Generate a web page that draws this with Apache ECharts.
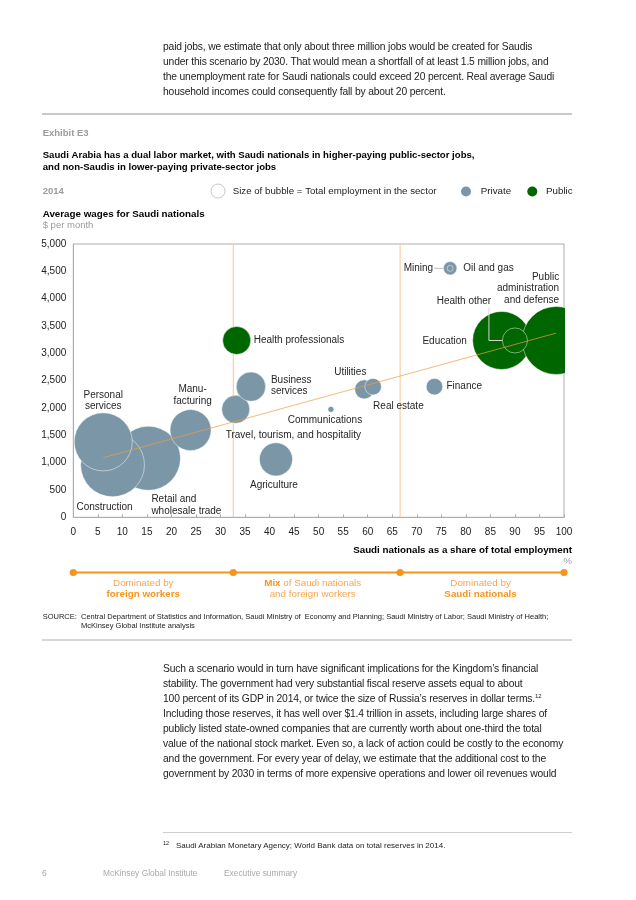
<!DOCTYPE html>
<html>
<head>
<meta charset="utf-8">
<script src="https://cdn.jsdelivr.net/npm/echarts@6/dist/echarts.min.js"></script>
<style>
  html, body { margin: 0; padding: 0; background: #fff; }
  #page { position: relative; width: 636px; height: 900px; overflow: hidden; font-family: "Liberation Sans", Arial, sans-serif; }
  #chart { position: absolute; left: 0; top: 0; width: 636px; height: 900px; }
  .prose { position: absolute; left: 163px; font-size: 10.3px; line-height: 15px; color: #222; white-space: nowrap; letter-spacing: -0.16px; }
  .rule { position: absolute; height: 0; border-top: 1.5px solid #cfcfcf; }
  .foot { position: absolute; font-size: 8.4px; color: #a8a8a8; white-space: nowrap; }
  sup { font-size: 6px; line-height: 0; vertical-align: 4px; }
</style>
</head>
<body>
<div id="page">
  <div id="chart"></div>
  <div class="prose" style="top:39px;">paid jobs, we estimate that only about three million jobs would be created for Saudis<br>under this scenario by 2030. That would mean a shortfall of at least 1.5 million jobs, and<br>the unemployment rate for Saudi nationals could exceed 20 percent. Real average Saudi<br>household incomes could consequently fall by about 20 percent.</div>
  <div class="prose" style="top:661px;">Such a scenario would in turn have significant implications for the Kingdom’s financial<br>stability. The government had very substantial fiscal reserve assets equal to about<br>100 percent of its GDP in 2014, or twice the size of Russia’s reserves in dollar terms.<sup>12</sup><br>Including those reserves, it has well over $1.4 trillion in assets, including large shares of<br>publicly listed state-owned companies that are currently worth about one-third the total<br>value of the national stock market. Even so, a lack of action could be costly to the economy<br>and the government. For every year of delay, we estimate that the additional cost to the<br>government by 2030 in terms of more expensive operations and lower oil revenues would</div>
  <div class="rule" style="left:163px; width:409px; top:832px;"></div>
  <div class="foot" style="left:163px; top:840px; color:#222; font-size:5.5px;">12</div>
  <div class="foot" style="left:176px; top:841px; color:#222; font-size:8px;">Saudi Arabian Monetary Agency; World Bank data on total reserves in 2014.</div>
  <div class="foot" style="left:42px; top:868px;">6</div>
  <div class="foot" style="left:103px; top:868px;">McKinsey Global Institute</div>
  <div class="foot" style="left:224px; top:868px;">Executive summary</div>
</div>
<script>
// ---------------- DATA ----------------
const sectors = ['Retail and\nwholesale trade', 'Construction', 'Personal\nservices', 'Manu-\nfacturing', 'Agriculture',
  'Travel, tourism, and hospitality', 'Business\nservices', 'Utilities', 'Real estate', 'Communications', 'Finance',
  'Oil and gas', 'Mining', 'Health professionals', 'Education', 'Public\nadministration\nand defense', 'Health other'];
const sectorType = ['Private', 'Private', 'Private', 'Private', 'Private', 'Private', 'Private', 'Private', 'Private',
  'Private', 'Private', 'Private', 'Private', 'Public', 'Public', 'Public', 'Public'];
// Saudi nationals as a share of total employment, %
const saudiShare = [15.3, 8.0, 6.1, 23.9, 41.3, 33.1, 36.2, 59.3, 61.1, 52.5, 73.6, 76.8, 76.8, 33.3, 87.3, 98.4, 90.0];
// Average wages for Saudi nationals, $ per month
const avgWage = [1080, 960, 1380, 1595, 1060, 1975, 2390, 2340, 2390, 1975, 2390, 4555, 4555, 3235, 3235, 3235, 3235];
// Total employment in the sector (thousands)
const employment = [2100, 2080, 1720, 860, 560, 400, 440, 185, 140, 18, 140, 92, 18, 400, 1720, 2360, 320];
// Trend line endpoints (share %, wage $)
const trendX = [6.1, 98.4];
const trendY = [1090, 3370];
// Boundaries between employment regimes (share %)
const regimeBounds = [0, 32.6, 66.6, 100];
const xTicks = { min: 0, max: 100, interval: 5 };
const yTicks = { min: 0, max: 5000, interval: 500 };

// ---------------- LAYOUT / STYLE ----------------
const PRIVATE_COLOR = '#7b97a7';
const PUBLIC_COLOR = '#006600';
const ORANGE = '#f7941d';
const R_K = 0.7; // px radius per sqrt(thousand employees)
// label offsets in px relative to bubble center: [dx, dy, align]
const labelLayout = {
  'Retail and\nwholesale trade': [3, 47, 'left'],
  'Construction': [-8, 42, 'center'],
  'Personal\nservices': [0, -41, 'center'],
  'Manu-\nfacturing': [2, -35, 'center'],
  'Agriculture': [-2, 26, 'center'],
  'Travel, tourism, and hospitality': [-10, 26, 'left'],
  'Business\nservices': [20, -1, 'left'],
  'Utilities': [-14, -17, 'center'],
  'Real estate': [0, 20, 'left'],
  'Communications': [-6, 11, 'center'],
  'Finance': [12, 0, 'left'],
  'Oil and gas': [13, 0, 'left'],
  'Mining': [-17, 0, 'right'],
  'Health professionals': [17, 0, 'left'],
  'Education': [-57, 1, 'center'],
  'Public\nadministration\nand defense': [3, -52, 'right'],
  'Health other': [-51, -39, 'center']
};

function bubbleData(type) {
  const out = [];
  sectors.forEach((s, i) => { if (sectorType[i] === type) out.push([saudiShare[i], avgWage[i], employment[i], i]); });
  return out;
}

function renderBubble(color) {
  return function (params, api) {
    const p = api.coord([api.value(0), api.value(1)]);
    const r = R_K * Math.sqrt(api.value(2));
    return {
      type: 'circle',
      shape: { cx: p[0], cy: p[1], r: r },
      style: { fill: color, stroke: 'rgba(255,255,255,0.6)', lineWidth: 0.8 }
    };
  };
}

function renderLabel(params, api) {
  const i = api.value(2);
  const name = sectors[i];
  const lay = labelLayout[name];
  const p = api.coord([api.value(0), api.value(1)]);
  const children = [{
    type: 'text',
    style: {
      x: p[0] + lay[0], y: p[1] + lay[1], text: name,
      align: lay[2], verticalAlign: 'middle',
      font: '10px "Liberation Sans", Arial, sans-serif', lineHeight: 11.5, fill: '#262626'
    }
  }];
  const r = R_K * Math.sqrt(employment[i]);
  if (name === 'Mining') {
    const ro = R_K * Math.sqrt(employment[sectors.indexOf('Oil and gas')]);
    children.push({ type: 'line', shape: { x1: p[0] - 16, y1: p[1], x2: p[0] - ro, y2: p[1] }, style: { stroke: '#bdbdbd', lineWidth: 1 } });
  }
  if (name === 'Health other') {
    children.push({ type: 'polyline', shape: { points: [[p[0] + lay[0] + 25, p[1] + lay[1] + 6], [p[0] + lay[0] + 25, p[1]], [p[0] - r, p[1]]] }, style: { stroke: '#d6d6d6', lineWidth: 1, fill: null } });
  }
  return { type: 'group', children: children };
}

const chart = echarts.init(document.getElementById('chart'), null, { renderer: 'canvas' });

const labelData = sectors.map((s, i) => [saudiShare[i], avgWage[i], i]);

const T = (x, y, text, opts) => Object.assign({ type: 'text', x: x, y: y, style: Object.assign({ text: text, font: '10px "Liberation Sans", Arial, sans-serif', fill: '#222', verticalAlign: 'middle' }, opts || {}) });

const option = {
  animation: false,
  grid: { left: 73.3, right: 72, top: 244, bottom: 382.7, show: true, borderColor: '#adadad', borderWidth: 1, backgroundColor: 'transparent' },
  xAxis: {
    type: 'value', min: xTicks.min, max: xTicks.max, interval: xTicks.interval,
    axisLine: { show: true, lineStyle: { color: '#adadad', width: 1 } },
    axisTick: { show: true, inside: true, length: 3, lineStyle: { color: '#adadad' } },
    axisLabel: { color: '#222', fontSize: 10, margin: 10, fontFamily: 'Liberation Sans' },
    splitLine: { show: false }
  },
  yAxis: {
    type: 'value', min: yTicks.min, max: yTicks.max, interval: yTicks.interval,
    axisLine: { show: true, lineStyle: { color: '#adadad', width: 1 } },
    axisTick: { show: false },
    axisLabel: { color: '#222', fontSize: 10, margin: 7, fontFamily: 'Liberation Sans', formatter: v => v.toLocaleString('en-US') },
    splitLine: { show: false }
  },
  series: [
    {
      type: 'line', name: 'bound1', data: [[regimeBounds[1], yTicks.min], [regimeBounds[1], yTicks.max]],
      symbol: 'none', lineStyle: { color: '#fcc58d', width: 1 }, z: 1, silent: true
    },
    {
      type: 'line', name: 'bound2', data: [[regimeBounds[2], yTicks.min], [regimeBounds[2], yTicks.max]],
      symbol: 'none', lineStyle: { color: '#fcc58d', width: 1 }, z: 1, silent: true
    },
    { type: 'custom', name: 'Private', data: bubbleData('Private'), renderItem: renderBubble(PRIVATE_COLOR), clip: true, z: 2, itemStyle: { color: PRIVATE_COLOR } },
    { type: 'custom', name: 'Public', data: bubbleData('Public'), renderItem: renderBubble(PUBLIC_COLOR), clip: true, z: 2, itemStyle: { color: PUBLIC_COLOR } },
    {
      type: 'line', name: 'trend', data: trendX.map((x, i) => [x, trendY[i]]),
      symbol: 'none', lineStyle: { color: '#f39a3c', width: 1, opacity: 0.7 }, z: 3, silent: true
    },
    { type: 'custom', name: 'labels', data: labelData, renderItem: renderLabel, clip: false, z: 4, silent: true }
  ]
};
chart.setOption(option);

// regime timeline positioned from the x axis
const bx = regimeBounds.map(v => chart.convertToPixel({ xAxisIndex: 0 }, v));
const TL_Y = 572.5;
const mid = (a, b) => (a + b) / 2;
const graphics = [
  { type: 'line', shape: { x1: 42, y1: 114, x2: 572, y2: 114 }, style: { stroke: '#c9c9c9', lineWidth: 2 } },
  T(42.7, 133, 'Exhibit E3', { fill: '#9b9b9b', font: 'bold 9.5px "Liberation Sans", Arial, sans-serif' }),
  T(42.7, 155.5, 'Saudi Arabia has a dual labor market, with Saudi nationals in higher-paying public-sector jobs,', { fill: '#000', font: 'bold 9.6px "Liberation Sans", Arial, sans-serif' }),
  T(42.7, 167, 'and non-Saudis in lower-paying private-sector jobs', { fill: '#000', font: 'bold 9.6px "Liberation Sans", Arial, sans-serif' }),
  T(42.7, 191, '2014', { fill: '#9b9b9b', font: 'bold 9.5px "Liberation Sans", Arial, sans-serif' }),
  { type: 'circle', shape: { cx: 218, cy: 191, r: 7 }, style: { fill: '#fff', stroke: '#c8c8c8', lineWidth: 1 } },
  T(232.7, 191, 'Size of bubble = Total employment in the sector', { font: '9.7px "Liberation Sans", Arial, sans-serif' }),
  { type: 'circle', shape: { cx: 466, cy: 191.5, r: 5 }, style: { fill: PRIVATE_COLOR } },
  T(480.7, 191.5, 'Private', { font: '9.8px "Liberation Sans", Arial, sans-serif' }),
  { type: 'circle', shape: { cx: 532.3, cy: 191.5, r: 5 }, style: { fill: PUBLIC_COLOR } },
  T(546, 191.5, 'Public', { font: '9.8px "Liberation Sans", Arial, sans-serif' }),
  T(42.7, 214, 'Average wages for Saudi nationals', { fill: '#000', font: 'bold 9.8px "Liberation Sans", Arial, sans-serif' }),
  T(42.7, 225, '$ per month', { fill: '#9b9b9b', font: '9.5px "Liberation Sans", Arial, sans-serif' }),
  T(572, 550, 'Saudi nationals as a share of total employment', { fill: '#000', font: 'bold 9.8px "Liberation Sans", Arial, sans-serif', align: 'right' }),
  T(572, 561.5, '%', { fill: '#9b9b9b', font: '9.5px "Liberation Sans", Arial, sans-serif', align: 'right' }),
  { type: 'line', shape: { x1: bx[0], y1: TL_Y, x2: bx[3], y2: TL_Y }, style: { stroke: ORANGE, lineWidth: 2 } }
];
bx.forEach(x => graphics.push({ type: 'circle', shape: { cx: x, cy: TL_Y, r: 3.6 }, style: { fill: ORANGE } }));
const richOrange = {
  n: { fill: '#f9a54f', font: '9.8px "Liberation Sans", Arial, sans-serif', lineHeight: 11 },
  b: { fill: ORANGE, font: 'bold 9.8px "Liberation Sans", Arial, sans-serif', lineHeight: 11 }
};
const regimeText = [
  '{n|Dominated by}\n{b|foreign workers}',
  '{b|Mix}{n| of Saudi nationals}\n{n|and foreign workers}',
  '{n|Dominated by}\n{b|Saudi nationals}'
];
const regimeCenters = [mid(bx[0], bx[1]) - 10, mid(bx[1], bx[2]) - 4, mid(bx[2], bx[3]) - 1.5];
regimeText.forEach((t, i) => graphics.push({
  type: 'text', x: regimeCenters[i], y: 589, style: { text: t, rich: richOrange, align: 'center', verticalAlign: 'middle' }
}));
graphics.push(
  T(42.7, 617, 'SOURCE:', { font: '7.5px "Liberation Sans", Arial, sans-serif' }),
  T(81, 617, 'Central Department of Statistics and Information, Saudi Ministry of  Economy and Planning; Saudi Ministry of Labor; Saudi Ministry of Health;', { font: '7.5px "Liberation Sans", Arial, sans-serif' }),
  T(81, 626, 'McKinsey Global Institute analysis', { font: '7.5px "Liberation Sans", Arial, sans-serif' }),
  { type: 'line', shape: { x1: 42, y1: 640, x2: 572, y2: 640 }, style: { stroke: '#c9c9c9', lineWidth: 1.5 } }
);
chart.setOption({ graphic: graphics });
</script>
</body>
</html>
